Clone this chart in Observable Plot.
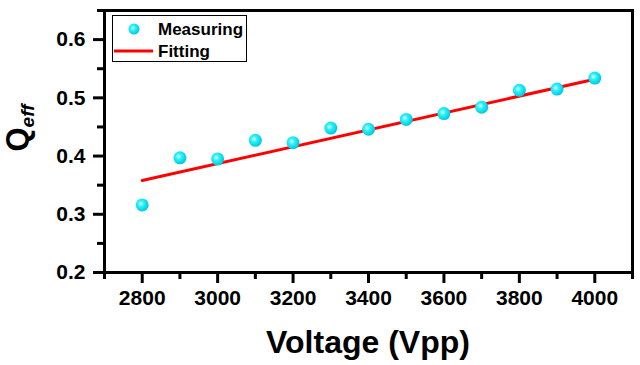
<!DOCTYPE html>
<html><head><meta charset="utf-8">
<script src="https://cdn.jsdelivr.net/npm/d3@7"></script>
<script src="https://cdn.jsdelivr.net/npm/@observablehq/plot@0.6"></script>
<style>
body{margin:0;background:#fff;}
#wrap{position:relative;width:640px;height:365px;font-family:"Liberation Sans",Arial,sans-serif;}
.legend{position:absolute;left:112px;top:15px;width:133px;height:45px;border:1.2px solid #000;background:#fff;}
</style></head>
<body><div id="wrap"></div>
<script>
const voltage = [2800, 2900, 3000, 3100, 3200, 3300, 3400, 3500, 3600, 3700, 3800, 3900, 4000];
const qeff = [0.316, 0.397, 0.395, 0.427, 0.423, 0.448, 0.446, 0.463, 0.473, 0.484, 0.513, 0.515, 0.534];
const fitVoltage = [2800, 4000];
const fitQ = [0.358, 0.532];
const xMajor = [2800, 3000, 3200, 3400, 3600, 3800, 4000];
const xMinor = [2700, 2900, 3100, 3300, 3500, 3700, 3900, 4100];
const yMajor = [0.2, 0.3, 0.4, 0.5, 0.6];
const yMinor = [0.25, 0.35, 0.45, 0.55, 0.65];

const pts = voltage.map((v, i) => ({v, q: qeff[i]}));
const fit = fitVoltage.map((v, i) => ({v, q: fitQ[i]}));

const chart = Plot.plot({
  width: 640, height: 365,
  marginLeft: 104, marginRight: 8, marginTop: 10, marginBottom: 93,
  style: {fontFamily: "Liberation Sans, Arial, sans-serif", fontSize: "21px", fontWeight: "bold", color: "#000"},
  x: {domain: [2700, 4100]},
  y: {domain: [0.2, 0.65]},
  marks: [
    Plot.axisX({ticks: xMajor, tickSize: 11, tickPadding: 7, strokeWidth: 3,
      tickFormat: d => String(d), fontSize: 21, fontWeight: "bold", label: null}),
    Plot.axisX({ticks: xMinor, tickSize: 7, strokeWidth: 3, tickFormat: () => "", label: null}),
    Plot.axisY({ticks: yMajor, tickSize: 11, tickPadding: 8, strokeWidth: 3,
      tickFormat: d => d.toFixed(1), fontSize: 21, fontWeight: "bold", label: null}),
    Plot.axisY({ticks: yMinor, tickSize: 7, strokeWidth: 3, tickFormat: () => "", label: null}),
    Plot.line(fit, {x: "v", y: "q", stroke: "#ff0000", strokeWidth: 3}),
    Plot.dot(pts, {x: "v", y: "q", r: 6.5, fill: "url(#sphere)", stroke: "none"}),
    Plot.frame({stroke: "#000", strokeWidth: 3})
  ]
});

const svg = d3.select(chart);
svg.selectAll('g[aria-label="x-axis tick label"] text, g[aria-label="y-axis tick label"] text')
  .style("font-size", "21px").style("font-weight", "bold")
  .style("font-family", "Liberation Sans, Arial, sans-serif").style("fill", "#000");

const defs = svg.insert("defs", ":first-child");
const g = defs.append("radialGradient").attr("id", "sphere").attr("cx", "0.4").attr("cy", "0.4").attr("r", "0.6");
g.append("stop").attr("offset", "0").attr("stop-color", "#eaffff");
g.append("stop").attr("offset", "0.35").attr("stop-color", "#2ef4ff");
g.append("stop").attr("offset", "1").attr("stop-color", "#00c8dc");

// axis titles
svg.append("text").attr("x", 368).attr("y", 353).attr("text-anchor", "middle")
  .style("font-size", "32px").style("font-weight", "bold").attr("fill", "#000").text("Voltage (Vpp)");
const yl = svg.append("text").attr("transform", "translate(28,128) rotate(-90)")
  .attr("text-anchor", "middle").style("font-weight", "bold").attr("fill", "#000");
yl.append("tspan").style("font-size", "31px").text("Q");
yl.append("tspan").style("font-size", "19px").style("font-style", "italic").attr("dy", 6).text("eff");

document.getElementById("wrap").appendChild(chart);

// legend
const leg = document.createElement("div");
leg.className = "legend";
leg.innerHTML = `
<svg width="133" height="45" style="position:absolute;left:0;top:0">
 <defs><radialGradient id="sphere2" cx="0.4" cy="0.4" r="0.6">
  <stop offset="0" stop-color="#eaffff"/><stop offset="0.35" stop-color="#2ef4ff"/><stop offset="1" stop-color="#00c8dc"/>
 </radialGradient></defs>
 <circle cx="21" cy="13" r="5.5" fill="url(#sphere2)"/>
 <line x1="1" x2="40" y1="35" y2="35" stroke="#ff0000" stroke-width="3"/>
 <text x="45" y="19" font-size="17" font-weight="bold" font-family="Liberation Sans, Arial, sans-serif">Measuring</text>
 <text x="45" y="41" font-size="17" font-weight="bold" font-family="Liberation Sans, Arial, sans-serif">Fitting</text>
</svg>`;
document.getElementById("wrap").appendChild(leg);
</script></body></html>
